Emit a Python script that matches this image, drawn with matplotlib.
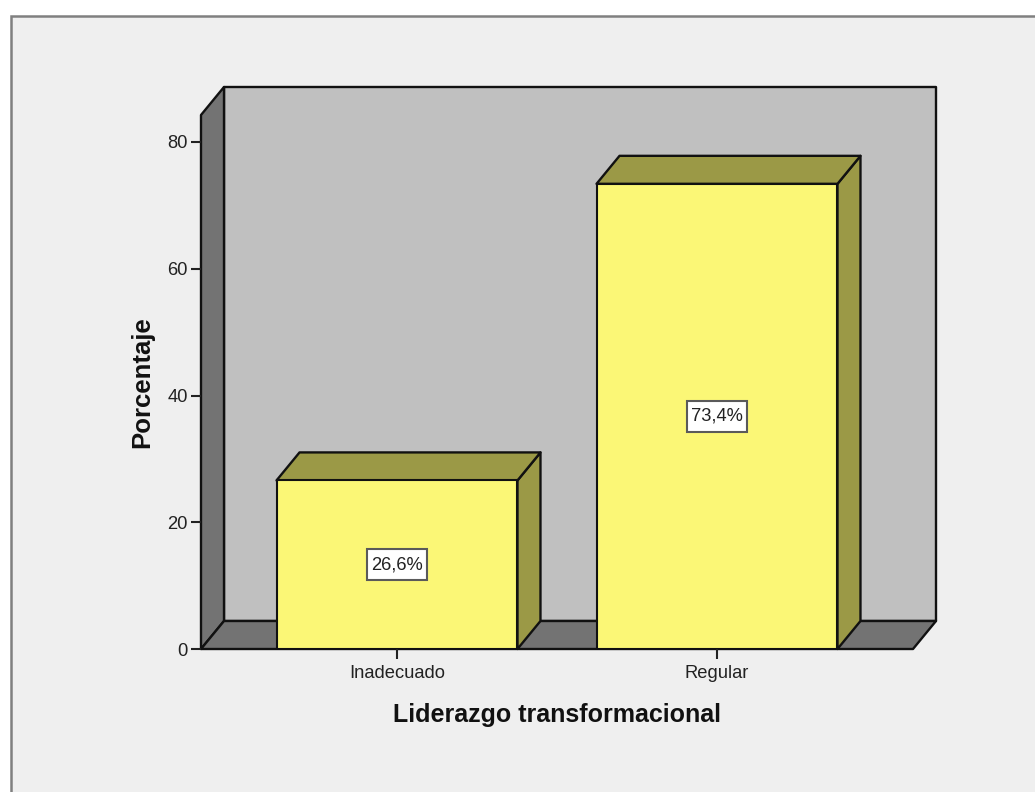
#!/usr/bin/env python3
import matplotlib
matplotlib.use('Agg')
import matplotlib.pyplot as plt
from matplotlib.patches import Polygon, Rectangle

categories = ['Inadecuado', 'Regular']
percentages = [26.6, 73.4]
value_labels = ['26,6%', '73,4%']
y_ticks = [0, 20, 40, 60, 80]

W, H = 1035, 792
plt.rcParams['font.family'] = ['Liberation Sans', 'DejaVu Sans']

fig = plt.figure(figsize=(W / 100, H / 100), dpi=100, facecolor='white')

# chart frame, runs off the right and bottom of the picture
fig.add_artist(Rectangle((10.5 / W, -0.05), 1.1, 1 - 15.5 / H + 0.05, transform=fig.transFigure,
                         facecolor='#efefef', edgecolor='#808080', linewidth=1.8, zorder=-1))

# axes = the front plane of the 3D box
left, right, bottom, top = 201, 913, 649, 115
ax = fig.add_axes([left / W, 1 - bottom / H, (right - left) / W, (bottom - top) / H])
ax.patch.set_visible(False)
ax.set_xlim(-0.6125, 1.6125)
ax.set_ylim(0, (bottom - top) / (507 / 80))
for s in ax.spines.values():
    s.set_visible(False)

xmin, xmax = ax.get_xlim()
ymin, ymax = ax.get_ylim()
# depth of the box in data units (23 px right, 28 px up)
dx = 23 / (right - left) * (xmax - xmin)
dy = 28 / (bottom - top) * (ymax - ymin)
line = dict(edgecolor='#111111', linewidth=1.7, joinstyle='round', clip_on=False)

# back wall, left wall, floor
ax.add_patch(Polygon([(xmin + dx, ymin + dy), (xmax + dx, ymin + dy), (xmax + dx, ymax + dy),
                      (xmin + dx, ymax + dy)], facecolor='#c0c0c0', zorder=1, **line))
ax.add_patch(Polygon([(xmin, ymin), (xmin + dx, ymin + dy), (xmin + dx, ymax + dy), (xmin, ymax)],
                     facecolor='#737373', zorder=1, **line))
ax.add_patch(Polygon([(xmin, ymin), (xmax, ymin), (xmax + dx, ymin + dy), (xmin + dx, ymin + dy)],
                     facecolor='#737373', zorder=1, **line))

# bars
bar_width = 0.753
box_w = 60 / (right - left) * (xmax - xmin)
box_h = 31 / (bottom - top) * (ymax - ymin)
for i, v in enumerate(percentages):
    x0, x1 = i - bar_width / 2, i + bar_width / 2
    ax.add_patch(Polygon([(x1, 0), (x1 + dx, dy), (x1 + dx, v + dy), (x1, v)],
                         facecolor='#9b9946', zorder=2, **line))
    ax.add_patch(Polygon([(x0, v), (x1, v), (x1 + dx, v + dy), (x0 + dx, v + dy)],
                         facecolor='#9b9946', zorder=2, **line))
    ax.bar(i, v, width=bar_width, color='#fbf776', edgecolor='#111111', linewidth=1.5, zorder=3)
    ax.add_patch(Rectangle((i - box_w / 2, v / 2 - box_h / 2), box_w, box_h, facecolor='white',
                           edgecolor='#5a5a5a', linewidth=1.5, zorder=4))
    ax.text(i, v / 2, value_labels[i], ha='center', va='center', fontsize=13.2, color='#222222', zorder=5)

ax.set_xticks(range(len(categories)), categories)
ax.set_yticks(y_ticks)
ax.tick_params(axis='both', labelsize=13.2, length=7.5, width=1.5, color='#222222', labelcolor='#222222', pad=2)
ax.tick_params(axis='x', pad=4)
plt.setp(ax.get_yticklabels(), va='center_baseline')
ax.set_xlabel('Liderazgo transformacional', fontsize=18, fontweight='bold', labelpad=15, color='#111111')
ax.set_ylabel('Porcentaje', fontsize=18.5, fontweight='bold', color='#111111')
ax.yaxis.set_label_coords((154 - left) / (right - left), (bottom - 382) / (bottom - top))

fig.savefig('out.png', dpi=100, facecolor=fig.get_facecolor())
